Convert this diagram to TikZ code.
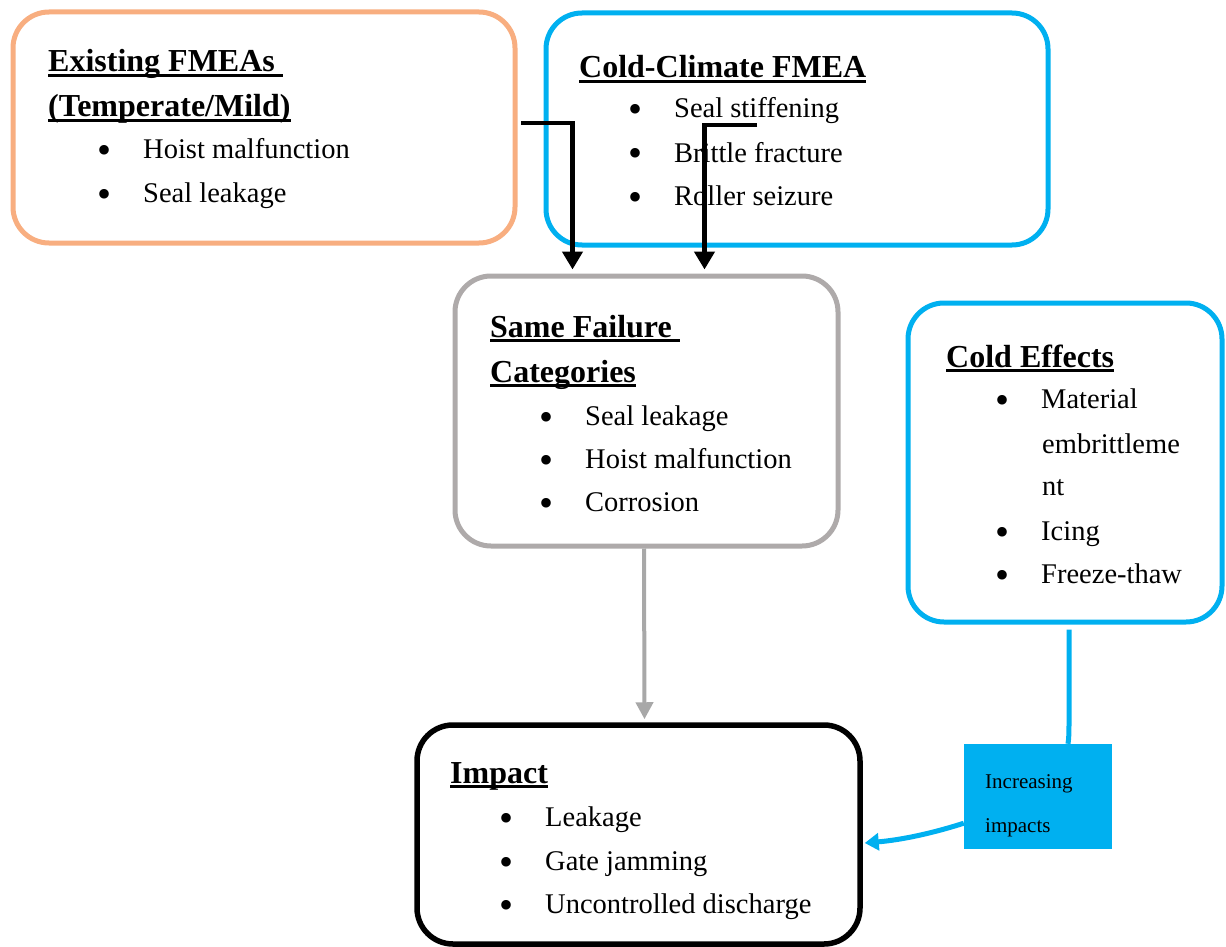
\documentclass[tikz,border=0pt]{standalone}
\usepackage{fontspec}
\setmainfont{Liberation Serif}
\usetikzlibrary{arrows.meta,fit}
\definecolor{peach}{HTML}{F8AE80}
\definecolor{sky}{HTML}{00B0F0}
\definecolor{stone}{HTML}{AEAAAA}
\definecolor{arrowgrey}{HTML}{A8A8A8}
% underlined bold heading
\newcommand\hd[1]{\setbox0\hbox{\bfseries#1}\rlap{\rule[-5pt]{\wd0}{2.6pt}}\box0}
% bullet followed by the item text
\newcommand\bul{\makebox[46pt][l]{\raisebox{-5pt}{\fontsize{40}{40}\selectfont\textbullet}}}
\tikzset{
  panel/.style={draw, rounded corners=36pt, line width=5pt, inner sep=0pt},
  head/.style={anchor=base west, inner sep=0pt, font=\fontsize{32}{38}\selectfont},
  txt/.style={anchor=base west, inner sep=0pt, font=\fontsize{28.5}{34}\selectfont},
  flow/.style={line width=4.5pt, -{Triangle[length=18pt,width=20pt]}},
}
\begin{document}
\begin{tikzpicture}[x=1pt,y=-1pt]
\useasboundingbox (0,0) rectangle (1226,947);

% panels
\node[panel, draw=peach, fit={(13,12) (515,243)}] (exist) {};
\node[panel, draw=sky, fit={(546,13) (1048,245)}] (cold) {};
\node[panel, draw=stone, fit={(455,276) (838,546)}] (same) {};
\node[panel, draw=sky, fit={(908,303) (1222,622)}] (effects) {};
\node[panel, draw=black, line width=5.5pt, fit={(417,725) (860,944)}] (impact) {};
\node[fill=sky, inner sep=0pt, fit={(964,744) (1112,849)}] (label) {};

% Existing FMEAs
\node[head] (e1) at (48,72) {\hd{Existing FMEAs\ }};
\node[head] (e2) at (48,117) {\hd{(Temperate/Mild)}};
\node[txt] (e3) at (97,159) {\bul Hoist malfunction};
\node[txt] (e4) at (97,202) {\bul Seal leakage};

% Cold-Climate FMEA
\node[head] (c1) at (579,78) {\hd{Cold-Climate FMEA}};
\node[txt] (c2) at (628,118) {\bul Seal stiffening};
\node[txt] (c3) at (628,162) {\bul Brittle fracture};
\node[txt] (c4) at (628,205) {\bul Roller seizure};

% Same Failure Categories
\node[head] (s1) at (490,337) {\hd{Same Failure\ }};
\node[head] (s2) at (490,382) {\hd{Categories}};
\node[txt] (s3) at (539,425) {\bul Seal leakage};
\node[txt] (s4) at (539,468) {\bul Hoist malfunction};
\node[txt] (s5) at (539,511) {\bul Corrosion};

% Cold Effects
\node[head] (f1) at (946,367) {\hd{Cold Effects}};
\node[txt] (f2) at (995,408) {\bul Material};
\node[txt] (f3) at (1042,453) {embrittleme};
\node[txt] (f4) at (1042,495) {nt};
\node[txt] (f5) at (995,540) {\bul Icing};
\node[txt] (f6) at (995,583) {\bul Freeze-thaw};

% Impact
\node[head] (i1) at (450,783) {\hd{Impact}};
\node[txt] (i2) at (499,826) {\bul Leakage};
\node[txt] (i3) at (499,870) {\bul Gate jamming};
\node[txt] (i4) at (499,913) {\bul Uncontrolled discharge};

% label on the cold-effects link
\node[anchor=base west, inner sep=0pt, font=\fontsize{21}{25}\selectfont] (l1) at (985,788) {Increasing};
\node[anchor=base west, inner sep=0pt, font=\fontsize{21}{25}\selectfont] (l2) at (985,832) {impacts};

% connectors (shifts are in page units: positive y points up)
\coordinate (a1) at (521,123);
\coordinate (b1) at (757,125);
\coordinate (a2) at ([xshift=120pt,yshift=4pt]same.north west);
\coordinate (b2) at ([xshift=252pt,yshift=4pt]same.north west);
\draw[flow] (a1) -| (a2);
\draw[flow] (b1) -| (b2);

\draw[arrowgrey, line width=4pt, -{Triangle[length=17pt,width=17pt]}]
  ([xshift=-2.5pt]same.south) -- ([xshift=6pt,yshift=3pt]impact.north);

\draw[sky, line width=5pt] ([xshift=4pt,yshift=-5pt]effects.south)
  -- ([xshift=31pt,yshift=30pt]label.north) .. controls ([xshift=31pt,yshift=8pt]label.north) .. ([xshift=30pt]label.north);
\draw[sky, line width=5pt, -{Triangle[length=14pt,width=17pt]}]
  ([yshift=26pt]label.south west) .. controls (930,834) and (900,840) .. ([xshift=2pt,yshift=-8.5pt]impact.east);
\end{tikzpicture}
\end{document}
